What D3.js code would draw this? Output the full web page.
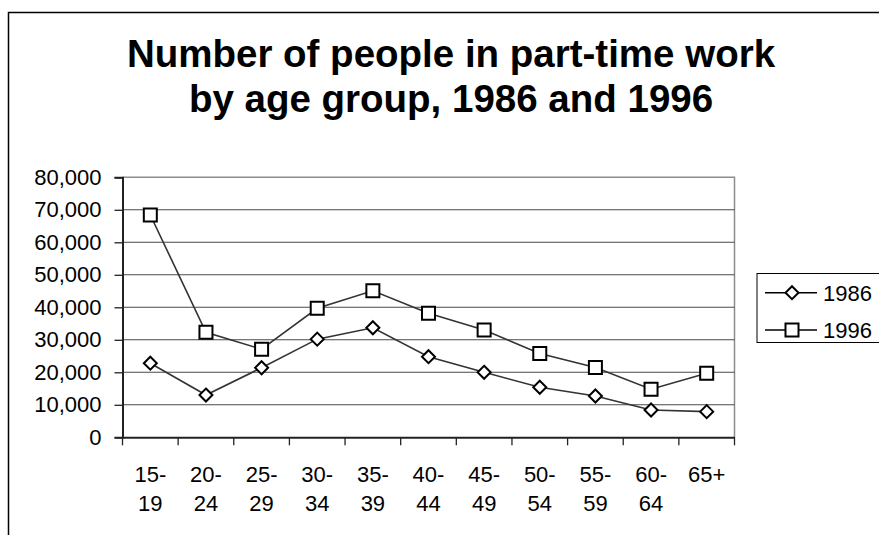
<!DOCTYPE html>
<html>
<head>
<meta charset="utf-8">
<script src="https://cdn.jsdelivr.net/npm/d3@7"></script>
<style>
  html, body { margin: 0; padding: 0; background: #fff; }
  svg { display: block; font-family: "Liberation Sans", Arial, sans-serif; }
</style>
</head>
<body>
<svg id="chart" width="879" height="535"></svg>
<script>
// Part-time workers by age group, two survey years
const categories = ["15-19", "20-24", "25-29", "30-34", "35-39", "40-44", "45-49", "50-54", "55-59", "60-64", "65+"];
const values1986 = [22800, 13000, 21400, 30200, 33700, 24800, 20000, 15400, 12700, 8400, 7900];
const values1996 = [68400, 32300, 27100, 39700, 45100, 38200, 33000, 25800, 21500, 14800, 19700];
const yTicks = [0, 10000, 20000, 30000, 40000, 50000, 60000, 70000, 80000];
const titleLines = ["Number of people in part-time work", "by age group, 1986 and 1996"];
const seriesNames = ["1986", "1996"];

const svg = d3.select("#chart");

// Chart frame
svg.append("rect")
  .attr("x", 8.5).attr("y", 12.5)
  .attr("width", 1000).attr("height", 700)
  .attr("fill", "#fff").attr("stroke", "#000").attr("stroke-width", 1.5);

// Title
const title = svg.append("text")
  .attr("text-anchor", "middle")
  .attr("font-weight", "bold")
  .attr("font-size", 38.5)
  .attr("fill", "#000");
titleLines.forEach((t, i) => {
  title.append("tspan").attr("x", 451).attr("y", 67 + i * 45).text(t);
});

// Plot area
const plotLeft = 122.5, plotRight = 734.5, plotTop = 177.3, plotBottom = 437.3;
const x = d3.scaleBand().domain(categories).range([plotLeft, plotRight]);
const y = d3.scaleLinear().domain([0, 80000]).range([plotBottom, plotTop]);
const cx = d => x(d) + x.bandwidth() / 2;

// Plot-area border (top and right edges)
svg.append("path")
  .attr("d", `M${plotLeft},${plotTop}H${plotRight}V${plotBottom}`)
  .attr("fill", "none").attr("stroke", "#8c8c8c").attr("stroke-width", 1.5);

// Horizontal gridlines
svg.append("g").selectAll("line")
  .data(yTicks.filter(v => v > 0 && v < 80000))
  .join("line")
  .attr("x1", plotLeft).attr("x2", plotRight)
  .attr("y1", d => y(d)).attr("y2", d => y(d))
  .attr("stroke", "#4a4a4a").attr("stroke-width", 1.1);

// Y axis
const yAxis = svg.append("g")
  .attr("transform", `translate(${plotLeft},0)`)
  .call(d3.axisLeft(y).tickValues(yTicks).tickFormat(d3.format(",")).tickSize(8).tickPadding(13));
yAxis.select(".domain").attr("stroke", "#222").attr("stroke-width", 2);
yAxis.selectAll(".tick line").attr("stroke", "#222").attr("stroke-width", 1.3);
yAxis.selectAll(".tick text")
  .attr("font-size", 22).attr("fill", "#000")
  .attr("font-family", "Liberation Sans, Arial, sans-serif");

// X axis: baseline, boundary ticks and two-line labels
const xAxis = svg.append("g")
  .attr("transform", `translate(0,${plotBottom})`)
  .call(d3.axisBottom(x).tickSize(0).tickPadding(0));
xAxis.select(".domain").attr("stroke", "#222").attr("stroke-width", 2);
xAxis.selectAll(".tick text").each(function (d) {
  const cut = d.indexOf("-");
  const parts = cut >= 0 ? [d.slice(0, cut + 1), d.slice(cut + 1)] : [d];
  const t = d3.select(this)
    .attr("font-size", 22).attr("fill", "#000")
    .attr("font-family", "Liberation Sans, Arial, sans-serif")
    .attr("dy", null).attr("y", null).text(null);
  parts.forEach((p, i) => t.append("tspan").attr("x", 0).attr("y", 45 + i * 29).text(p));
});
const boundaries = d3.range(categories.length + 1).map(i => plotLeft + i * x.step());
xAxis.append("g").selectAll("line")
  .data(boundaries)
  .join("line")
  .attr("x1", d => d).attr("x2", d => d)
  .attr("y1", 0).attr("y2", 8)
  .attr("stroke", "#222").attr("stroke-width", 1.3);

// Series lines and markers
const diamond = "M0,-6.5L6.5,0L0,6.5L-6.5,0Z";
const square = "M-6.5,-6.5H6.5V6.5H-6.5Z";
const series = [
  { name: seriesNames[0], values: values1986, marker: diamond },
  { name: seriesNames[1], values: values1996, marker: square }
];
const line = d3.line().x(d => cx(d.c)).y(d => y(d.v));

series.forEach(s => {
  const pts = categories.map((c, i) => ({ c, v: s.values[i] }));
  svg.append("path")
    .datum(pts)
    .attr("d", line)
    .attr("fill", "none").attr("stroke", "#333").attr("stroke-width", 1.6);
  svg.append("g").selectAll("path")
    .data(pts)
    .join("path")
    .attr("d", s.marker)
    .attr("transform", d => `translate(${cx(d.c)},${y(d.v)})`)
    .attr("fill", "#fff").attr("stroke", "#000").attr("stroke-width", 2);
});

// Legend
const legend = svg.append("g");
legend.append("rect")
  .attr("x", 757).attr("y", 273.5)
  .attr("width", 200).attr("height", 69)
  .attr("fill", "#fff").attr("stroke", "#000").attr("stroke-width", 1);
series.forEach((s, i) => {
  const ly = 292.7 + i * 37.3;
  legend.append("line")
    .attr("x1", 765).attr("x2", 817).attr("y1", ly).attr("y2", ly)
    .attr("stroke", "#000").attr("stroke-width", 1.6);
  legend.append("path")
    .attr("d", s.marker)
    .attr("transform", `translate(792,${ly})`)
    .attr("fill", "#fff").attr("stroke", "#000").attr("stroke-width", 2);
  legend.append("text")
    .attr("x", 823).attr("y", ly + 8)
    .attr("font-size", 22).attr("fill", "#000")
    .text(s.name);
});
</script>
</body>
</html>
